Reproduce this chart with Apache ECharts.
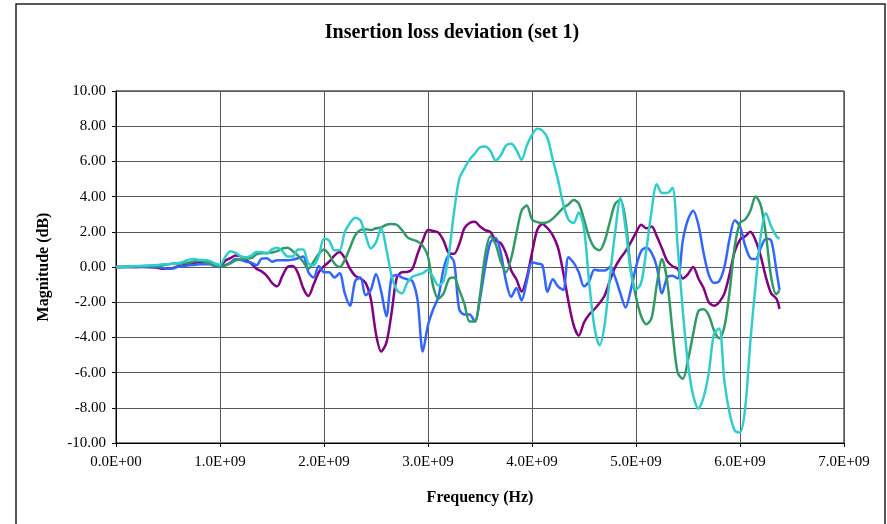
<!DOCTYPE html>
<html>
<head>
<meta charset="utf-8">
<script src="https://cdn.jsdelivr.net/npm/echarts@6/dist/echarts.min.js"></script>
<style>
  html, body { margin: 0; padding: 0; background: #fff; }
  #chart { width: 887px; height: 524px; }
</style>
</head>
<body>
<div id="chart"></div>
<script>
// Frequency sweep points (GHz), 50 MHz steps plus the final sample
const freqGHz = [
  0.00, 0.05, 0.10, 0.15, 0.20, 0.25, 0.30, 0.35, 0.40, 0.45,
  0.50, 0.55, 0.60, 0.65, 0.70, 0.75, 0.80, 0.85, 0.90, 0.95,
  1.00, 1.05, 1.10, 1.15, 1.20, 1.25, 1.30, 1.35, 1.40, 1.45,
  1.50, 1.55, 1.60, 1.65, 1.70, 1.75, 1.80, 1.85, 1.90, 1.95,
  2.00, 2.05, 2.10, 2.15, 2.20, 2.25, 2.30, 2.35, 2.40, 2.45,
  2.50, 2.55, 2.60, 2.65, 2.70, 2.75, 2.80, 2.85, 2.90, 2.95,
  3.00, 3.05, 3.10, 3.15, 3.20, 3.25, 3.30, 3.35, 3.40, 3.45,
  3.50, 3.55, 3.60, 3.65, 3.70, 3.75, 3.80, 3.85, 3.90, 3.95,
  4.00, 4.05, 4.10, 4.15, 4.20, 4.25, 4.30, 4.35, 4.40, 4.45,
  4.50, 4.55, 4.60, 4.65, 4.70, 4.75, 4.80, 4.85, 4.90, 4.95,
  5.00, 5.05, 5.10, 5.15, 5.20, 5.25, 5.30, 5.35, 5.40, 5.45,
  5.50, 5.55, 5.60, 5.65, 5.70, 5.75, 5.80, 5.85, 5.90, 5.95,
  6.00, 6.05, 6.10, 6.15, 6.20, 6.25, 6.30, 6.35, 6.38
];

// Insertion loss deviation per lane (dB)
const purpleDev = [
  0, 0, 0, 0, 0, 0, 0, -0.02, -0.05, -0.1,
  -0.08, -0.05, 0.05, 0.1, 0.18, 0.23, 0.27, 0.28, 0.25, 0.15,
  0.05, 0.35, 0.5, 0.65, 0.6, 0.4, 0.2, -0.1, -0.25, -0.5,
  -0.9, -1.1, -0.5, 0.0, 0.05, -0.35, -1.2, -1.65, -1.0, -0.3,
  0.05, 0.3, 0.65, 0.85, 0.5, -0.1, -0.5, -0.65, -0.9, -1.8,
  -3.8, -4.8, -4.3, -2.6, -0.6, -0.3, -0.28, -0.1, 0.75, 1.5,
  2.1, 2.05, 1.95, 1.5, 0.8, 0.75, 1.3, 2.2, 2.5, 2.57,
  2.3, 2.1, 2.0, 1.5, 1.35, 0.76, -0.2, -0.7, -1.4, -0.6,
  0.8, 2.1, 2.45, 2.2, 1.8, 1.1, -0.3, -1.95, -3.3, -3.9,
  -3.15, -2.7, -2.4, -2.05, -1.6, -0.75, 0.0, 0.5, 0.9, 1.4,
  1.95, 2.4, 2.2, 2.3, 1.75, 1.05, 0.35, 0.05, -0.1, -0.65,
  -0.4, 0.0, -0.65, -1.2, -2.0, -2.2, -2.0, -1.5, -0.4, 0.9,
  1.55, 1.75, 2.0, 1.5, 0.6, -0.6, -1.5, -1.8, -2.38
];

const blueDev = [
  0, 0, 0, 0, 0, 0.02, 0, 0, 0, -0.05,
  -0.1, -0.08, 0.02, 0.05, 0.1, 0.12, 0.15, 0.15, 0.15, 0.05,
  0.0, 0.1, 0.25, 0.45, 0.4, 0.3, 0.25, 0.1, 0.47, 0.5,
  0.3, 0.38, 0.38, 0.38, 0.42, 0.5, 0.6, -0.3, -0.6, 0.05,
  -0.3, -0.3, -0.6, -0.35, -1.5, -2.2, -0.8, -0.6, -1.6, -1.3,
  -0.4, -1.4, -2.8, -0.6, -0.45, -0.6, -0.7, -0.8, -1.9, -4.8,
  -3.3, -2.4, -1.7, -0.1, 0.65, 0.3, -2.4, -2.7, -2.7, -3.1,
  -1.8, 0.0, 1.4, 1.65, 0.8, -0.8, -1.7, -1.2, -1.9, -0.8,
  0.25, 0.2, 0.1, -1.4, -0.7, -1.1, -1.3, 0.55, 0.25, -0.3,
  -1.1, -0.8, -0.15, -0.2, -0.2, 0.0, -0.6, -1.5, -2.3, -1.3,
  0.0, 0.9, 1.1, 0.8, 0.0, -1.5, -0.6, -0.5, -0.65, 1.5,
  2.7, 3.2, 2.4, 0.8, -0.45, -0.9, -0.8, 0.0, 1.6, 2.65,
  2.3, 1.2, 0.5, 0.45, 1.1, 1.6, 1.5, -0.2, -1.3
];

const greenDev = [
  0, 0, 0.02, 0.03, 0.03, 0.05, 0.05, 0.05, 0.05, 0.1,
  0.15, 0.2, 0.2, 0.22, 0.25, 0.32, 0.35, 0.3, 0.2, 0.1,
  0.02, 0.1, 0.2, 0.38, 0.42, 0.47, 0.5, 0.72, 0.78, 0.8,
  0.82, 0.9, 1.05, 1.1, 0.9, 0.65, 0.3, -0.1, 0.3, 0.75,
  1.0, 0.7, 0.2, 0.0, 0.4, 1.1, 1.8, 2.1, 2.15, 2.1,
  2.2, 2.25, 2.4, 2.45, 2.4, 2.1, 1.7, 1.55, 1.45, 1.2,
  0.6, -1.1, -1.8, -1.5, -0.7, -0.6, -1.3, -2.1, -3.1, -3.1,
  -1.6, 0.7, 1.75, 1.3, 0.3, -0.3, 0.5, 1.9, 3.2, 3.5,
  2.7, 2.55, 2.5, 2.55, 2.75, 3.05, 3.35, 3.55, 3.8, 3.6,
  2.7, 1.7, 1.1, 0.95, 1.5, 2.6, 3.6, 3.8, 2.6, -0.1,
  -1.7, -2.8, -3.25, -2.9, -1.0, 0.45, -0.8, -3.6, -6.0, -6.35,
  -5.3, -3.8, -2.5, -2.4, -2.75, -3.6, -4.05, -3.4, -1.4, 1.2,
  2.5, 2.7, 3.2, 4.0, 3.5, 1.8, -0.6, -1.55, -1.33
];

const cyanDev = [
  0, 0, 0.02, 0.03, 0.05, 0.05, 0.08, 0.1, 0.12, 0.15,
  0.15, 0.2, 0.23, 0.3, 0.42, 0.45, 0.4, 0.4, 0.35, 0.2,
  0.13, 0.57, 0.9, 0.8, 0.6, 0.55, 0.65, 0.85, 0.85, 0.75,
  1.0, 1.1, 0.9, 0.6, 0.6, 1.0, 1.0, 0.2, 0.1, 0.65,
  1.6, 1.5, 0.95, 0.95, 2.0, 2.5, 2.8, 2.65, 1.8, 1.05,
  1.4, 2.2, 1.0, -0.5, -1.3, -1.5, -0.9, -0.55, -0.45, -0.35,
  -0.15, -0.6, -1.05, -0.8, 0.7, 3.1, 5.0, 5.6, 6.1, 6.45,
  6.8, 6.85, 6.6, 6.05, 6.35, 6.9, 7.0, 6.65, 6.1, 6.9,
  7.5, 7.85, 7.75, 7.3, 6.1, 4.95, 3.6, 2.7, 2.5, 3.1,
  2.2, -0.9, -3.4, -4.45, -3.2, -0.5, 2.0, 3.9, 2.2, -0.3,
  -1.3, -0.9, 1.0, 3.2, 4.7, 4.2, 4.2, 4.5, 1.2, -2.5,
  -5.5, -7.3, -8.05, -7.4, -6.0, -3.8, -3.5, -6.5, -8.3, -9.3,
  -9.4, -8.0, -4.2, -1.0, 1.8, 3.05, 2.3, 1.75, 1.6
];

const xTicks = { min: 0, max: 7e9, step: 1e9 };
const yTicks = { min: -10, max: 10, step: 2 };

const SERIF = '"Liberation Serif", "Times New Roman", serif';

function pairs(values) {
  return freqGHz.map((f, i) => [f * 1e9, values[i]]);
}

// Scientific notation like 1.0E+09
function sci(v) {
  if (v === 0) return '0.0E+00';
  const e = Math.floor(Math.log10(Math.abs(v)));
  const m = v / Math.pow(10, e);
  const sign = e < 0 ? '-' : '+';
  const ea = String(Math.abs(e)).padStart(2, '0');
  return m.toFixed(1) + 'E' + sign + ea;
}

function lineSeries(name, color, values) {
  return {
    name: name,
    type: 'line',
    data: pairs(values),
    showSymbol: false,
    smooth: 0.3,
    lineStyle: { color: color, width: 2.5 },
    itemStyle: { color: color },
    emphasis: { disabled: true }
  };
}

const chart = echarts.init(document.getElementById('chart'), null, { renderer: 'canvas' });

chart.setOption({
  animation: false,
  backgroundColor: '#ffffff',
  graphic: [
    {
      type: 'rect',
      shape: { x: 16, y: 4, width: 869, height: 530 },
      style: { fill: 'none', stroke: '#222', lineWidth: 1.5 },
      silent: true
    },
    {
      type: 'text',
      x: 452, y: 33,
      style: {
        text: 'Insertion loss deviation (set 1)',
        font: 'bold 20px ' + SERIF,
        fill: '#000',
        textAlign: 'center',
        textVerticalAlign: 'middle'
      },
      silent: true
    }
  ],
  grid: {
    left: 116, top: 91, right: 43, bottom: 81,
    show: true, borderColor: '#000', borderWidth: 1,
    backgroundColor: 'transparent'
  },
  xAxis: {
    type: 'value',
    min: xTicks.min, max: xTicks.max, interval: xTicks.step,
    name: 'Frequency (Hz)',
    nameLocation: 'middle',
    nameGap: 47,
    nameTextStyle: { fontFamily: SERIF, fontWeight: 'bold', fontSize: 16, color: '#000' },
    axisLine: { show: true, onZero: false, lineStyle: { color: '#000', width: 1 } },
    axisTick: { show: true, inside: false, length: 4, lineStyle: { color: '#000' } },
    axisLabel: { fontFamily: SERIF, fontSize: 15, color: '#000', margin: 12, formatter: sci },
    splitLine: { show: true, lineStyle: { color: '#5a5a5a', width: 1 } }
  },
  yAxis: {
    type: 'value',
    min: yTicks.min, max: yTicks.max, interval: yTicks.step,
    name: 'Magnitude (dB)',
    nameLocation: 'middle',
    nameRotate: 90,
    nameGap: 64,
    nameTextStyle: { fontFamily: SERIF, fontWeight: 'bold', fontSize: 16, color: '#000' },
    axisLine: { show: true, onZero: false, lineStyle: { color: '#000', width: 1 } },
    axisTick: { show: true, inside: false, length: 4, lineStyle: { color: '#000' } },
    axisLabel: { fontFamily: SERIF, fontSize: 15, color: '#000', margin: 10,
                 formatter: v => v.toFixed(2) },
    splitLine: { show: true, lineStyle: { color: '#5a5a5a', width: 1 } }
  },
  series: [
    lineSeries('Lane A', '#800080', purpleDev),
    lineSeries('Lane B', '#3366FF', blueDev),
    lineSeries('Lane C', '#339966', greenDev),
    lineSeries('Lane D', '#33CCCC', cyanDev)
  ]
});
</script>
</body>
</html>
